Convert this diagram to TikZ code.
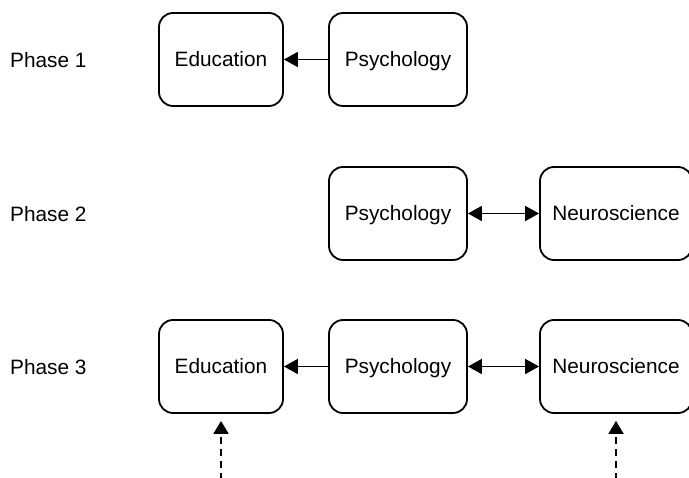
\documentclass[tikz,border=0pt]{standalone}
\usepackage{fontspec}
\setmainfont{Liberation Sans}
\usetikzlibrary{arrows.meta}
\begin{document}
\begin{tikzpicture}[x=1pt,y=-1pt,
  box/.style={draw,line width=1.8pt,rounded corners=14pt,inner sep=0pt,minimum height=93pt,text height=15pt,text depth=0pt,font=\fontsize{20.8}{24}\selectfont},
  edu/.style={box,minimum width=124pt},
  psy/.style={box,minimum width=138pt},
  neu/.style={box,minimum width=152pt},
  phase/.style={font=\fontsize{20.8}{24}\selectfont,anchor=west,inner sep=0pt,text height=15pt,text depth=0pt},
  conn/.style={line width=1.8pt,-{Triangle[length=14pt,width=15pt]}},
  bconn/.style={line width=1.8pt,{Triangle[length=14pt,width=15pt]}-{Triangle[length=14pt,width=15pt]}},
  dconn/.style={line width=1.8pt,dash pattern=on 7pt off 5pt,-{Triangle[length=13pt,width=15pt]},shorten >=7pt}]
\useasboundingbox (0,0) rectangle (689,478);
\node[phase] (p1) at (10,60) {Phase 1};
\node[phase] (p2) at (10,214) {Phase 2};
\node[phase] (p3) at (10,367) {Phase 3};
\node[edu] (e1) at (221,59.5) {Education};
\node[psy] (s1) at (398,59.5) {Psychology};
\node[psy] (s2) at (398,213.5) {Psychology};
\node[neu] (n2) at (616,213.5) {Neuroscience};
\node[edu] (e3) at (221,366.5) {Education};
\node[psy] (s3) at (398,366.5) {Psychology};
\node[neu] (n3) at (616,366.5) {Neuroscience};
\coordinate (de) at (221,480);
\coordinate (dn) at (616,480);
\draw[conn] (s1) -- (e1);
\draw[bconn] (s2) -- (n2);
\draw[conn] (s3) -- (e3);
\draw[bconn] (s3) -- (n3);
\draw[dconn] (de) -- (e3);
\draw[dconn] (dn) -- (n3);
\end{tikzpicture}
\end{document}
